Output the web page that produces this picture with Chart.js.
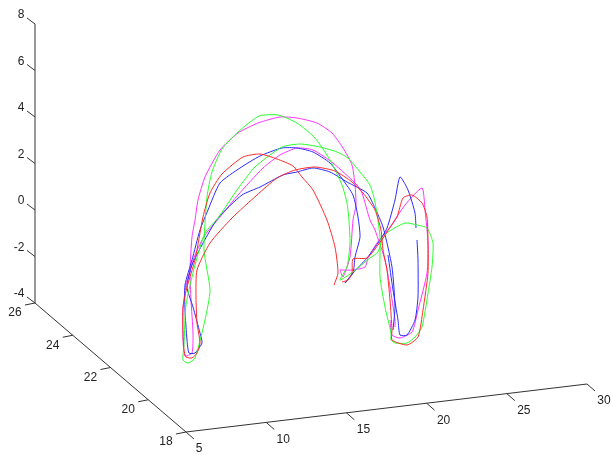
<!DOCTYPE html>
<html>
<head>
<meta charset="utf-8">
<style>
  html, body { margin: 0; padding: 0; background: #fff; }
  #wrap { position: relative; width: 613px; height: 455px; }
</style>
<script src="https://cdn.jsdelivr.net/npm/chart.js@4/dist/chart.umd.min.js"></script>
</head>
<body>
<div id="wrap"><canvas id="c"></canvas></div>
<script>
// curves, in view plane units
const redPath = [[334,285],[338,273],[335,247],[327,220],[313,190],[302,177],[293,166],[277,159],[260,154],[243,157],[222,174],[210,193],[203,217],[195,260],[187,287],[183,307],[183,333],[184,350],[186,357],[192,358],[197,353],[200,343],[197,323],[196,297],[197,270],[210,243],[232,218],[257,195],[277,178],[295,170],[315,167],[335,171],[352,182],[363,193],[375,210],[381,230],[383,250],[387,270],[390,300],[392,330],[392,340],[407,345],[418,337],[423,310],[428,273],[428,243],[427,217],[422,203],[412,195],[403,198],[397,217],[387,232],[378,245],[367,258],[353,259],[352,273],[348,280],[342,282]];
const greenPath = [[349,220],[350,243],[347,267],[340,280],[353,272],[370,258],[378,252],[382,240],[388,232],[405,223],[417,225],[427,228],[433,243],[432,267],[428,293],[422,327],[415,337],[407,343],[395,343],[391,340],[391,333],[385,307],[380,277],[380,237],[375,202],[370,185],[360,172],[348,158],[337,152],[320,147],[300,144],[282,147],[255,167],[237,190],[218,218],[205,233],[195,265],[186,305],[184,345],[183,360],[188,363],[195,358],[205,320],[210,290],[204,250],[207,197],[212,172],[222,149],[238,132],[259,116],[278,115],[297,123],[315,138],[330,160],[342,185],[347,203],[349,220]];
const bluePath = [[345,283],[353,273],[355,257],[360,237],[358,217],[353,195],[343,180],[330,163],[313,152],[297,148],[282,148],[260,156],[240,168],[220,183],[208,210],[200,230],[192,260],[185,285],[185,310],[187,340],[189,353],[195,353],[202,343],[200,333],[193,307],[187,287],[192,265],[203,243],[218,218],[242,195],[260,187],[283,175],[297,172],[313,168],[330,172],[347,182],[367,193],[375,208],[383,227],[392,267],[395,307],[393,330]];
const blueLobe = [[345,283],[353,273],[367,258],[378,243],[387,228],[395,200],[400,177],[408,190],[415,213],[416,228]];
const blueLobeLow = [[417,240],[418,260],[418,297],[415,320],[407,335],[400,335],[398,320],[393,290],[388,255]];
const magentaPath = [[340,270],[343,277],[350,257],[353,220],[356,205],[355,185],[352,165],[343,148],[332,133],[317,123],[297,118],[280,117],[258,123],[238,133],[220,150],[205,177],[198,200],[195,220],[192,237],[190,270],[191,300],[193,333],[192,353],[185,356],[183,340],[183,310],[186,285],[195,255],[205,235],[220,217],[238,195],[263,168],[280,155],[297,148],[313,150],[333,163],[357,185],[362,193],[370,220],[375,230],[385,260],[390,287],[395,320],[395,327]];
const magentaLobe = [[340,270],[353,270],[365,267],[368,258],[377,243],[390,227],[405,205],[422,188],[425,210],[428,243],[427,273],[418,310],[412,332],[400,338],[392,335],[390,320]];

// axes: labels plus the value range each axis runs over
const zTicks = [8, 6, 4, 2, 0, -2, -4];
const depthTicks = [26, 24, 22, 20, 18];
const xTicks = [5, 10, 15, 20, 25, 30];

// where each axis ends lie on the view plane
const zEnds = { from: -4, to: 8, a: [35, 303], b: [35, 24] };
const depthEnds = { from: 26, to: 18, a: [35, 303], b: [186, 432] };
const xEnds = { from: 5, to: 30, a: [186, 432], b: [587, 384] };

const at = (ax, v) => {
  const t = (v - ax.from) / (ax.to - ax.from);
  return [ax.a[0] + (ax.b[0] - ax.a[0]) * t, ax.a[1] + (ax.b[1] - ax.a[1]) * t];
};
const pts = (arr) => arr.map((p) => ({ x: p[0], y: p[1] }));

const curve = (arr, color) => ({
  data: pts(arr),
  borderColor: color,
  borderWidth: 1,
  pointRadius: 0,
  tension: 0.2,
  showLine: true,
});
const axisLine = (arr) => ({
  data: pts(arr),
  borderColor: "#333",
  borderWidth: 1,
  pointRadius: 0,
  tension: 0,
  showLine: true,
});

const axisSets = [
  axisLine([zEnds.a, zEnds.b]),
  axisLine([depthEnds.a, depthEnds.b]),
  axisLine([xEnds.a, xEnds.b]),
];
zTicks.forEach((v) => {
  const p = at(zEnds, v);
  axisSets.push(axisLine([p, [p[0] - 8, p[1] - 6]]));
});
depthTicks.forEach((v) => {
  const p = at(depthEnds, v);
  axisSets.push(axisLine([p, [p[0] - 10, p[1] + 2]]));
});
xTicks.forEach((v) => {
  const p = at(xEnds, v);
  axisSets.push(axisLine([p, [p[0] + 8, p[1] + 7]]));
});

// tick labels sit at a fixed offset from the tick
const tickLabels = {
  id: "tickLabels",
  afterDraw(chart) {
    const { ctx, scales } = chart;
    const put = (txt, p, dx, dy) => {
      ctx.fillText(txt, scales.x.getPixelForValue(p[0] + dx), scales.y.getPixelForValue(p[1] + dy));
    };
    ctx.save();
    ctx.font = "12px 'Liberation Sans'";
    ctx.fillStyle = "#222";
    ctx.textAlign = "center";
    ctx.textBaseline = "middle";
    zTicks.forEach((v) => put(String(v), at(zEnds, v), v < 0 ? -16 : -14, -9));
    depthTicks.forEach((v) => put(String(v), at(depthEnds, v), -20, 10));
    xTicks.forEach((v) => put(String(v), at(xEnds, v), v < 10 ? 13 : 17, 17));
    ctx.restore();
  },
};

new Chart(document.getElementById("c"), {
  type: "scatter",
  data: {
    datasets: [
      ...axisSets,
      curve(redPath, "#ff2a2a"),
      curve(greenPath, "#2aff2a"),
      curve(bluePath, "#2a2aff"),
      curve(blueLobe, "#2a2aff"),
      curve(blueLobeLow, "#2a2aff"),
      curve(magentaPath, "#ff33ff"),
      curve(magentaLobe, "#ff33ff"),
    ],
  },
  options: {
    responsive: true,
    maintainAspectRatio: false,
    animation: false,
    layout: { padding: 0 },
    plugins: { legend: { display: false }, tooltip: { enabled: false } },
    scales: {
      x: { type: "linear", min: 0, max: 613, display: false },
      y: { type: "linear", min: 0, max: 455, reverse: true, display: false },
    },
  },
  plugins: [tickLabels],
});
</script>
</body>
</html>
